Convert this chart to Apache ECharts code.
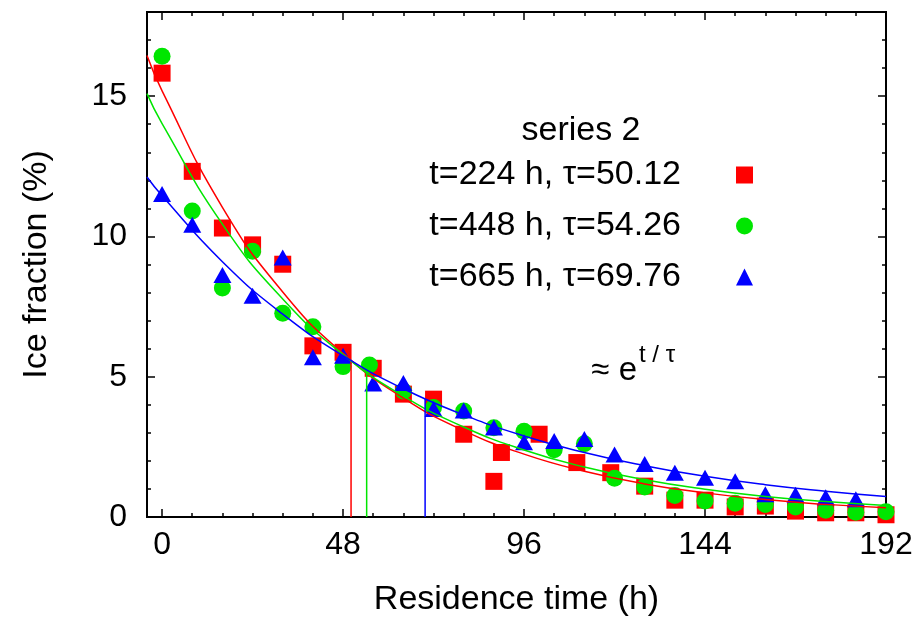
<!DOCTYPE html>
<html>
<head>
<meta charset="utf-8">
<script src="https://cdn.jsdelivr.net/npm/echarts@6/dist/echarts.min.js"></script>
<style>html,body{margin:0;padding:0;background:#fff}#chart{width:920px;height:620px}</style>
</head>
<body>
<div id="chart"></div>
<script>
// tick positions
var xMajor = [0, 48, 96, 144, 192];
var xMinor = [8, 16, 24, 32, 40, 56, 64, 72, 80, 88, 104, 112, 120, 128, 136, 152, 160, 168, 176, 184];
var yMajor = [0, 5, 10, 15];
var yMinor = [1, 2, 3, 4, 6, 7, 8, 9, 11, 12, 13, 14, 16, 17];

var names = ['t=224 h, τ=50.12', 't=448 h, τ=54.26', 't=665 h, τ=69.76'];
var colors = ['#ff0000', '#00e600', '#0000ff'];

// measured points
var redX = [0, 8, 16, 24, 32, 40, 48, 56, 64, 72, 80, 88, 90, 100, 110, 119, 128, 136, 144, 152, 160, 168, 176, 184, 192];
var redY = [15.82, 12.32, 10.30, 9.70, 9.01, 6.10, 5.87, 5.30, 4.38, 4.20, 2.95, 1.27, 2.30, 2.95, 1.94, 1.58, 1.10, 0.60, 0.60, 0.36, 0.39, 0.21, 0.15, 0.15, 0.08];
var greenX = [0, 8, 16, 24, 32, 40, 48, 55, 64, 72, 80, 88, 96, 104, 112, 120, 128, 136, 144, 152, 160, 168, 176, 184, 192];
var greenY = [16.42, 10.91, 8.16, 9.47, 7.26, 6.78, 5.36, 5.42, 4.49, 3.90, 3.78, 3.18, 3.06, 2.40, 2.61, 1.38, 1.07, 0.77, 0.57, 0.49, 0.45, 0.36, 0.24, 0.17, 0.19];
var blueX = [0, 8, 16, 24, 32, 40, 48, 56, 64, 72, 80, 88, 96, 104, 112, 120, 128, 136, 144, 152, 160, 168, 176, 184];
var blueY = [11.51, 10.42, 8.63, 7.89, 9.25, 5.69, 5.75, 4.76, 4.78, 3.85, 3.80, 3.19, 2.66, 2.71, 2.78, 2.23, 1.89, 1.58, 1.40, 1.27, 0.81, 0.79, 0.70, 0.63];

// fitted curves
var fitX = [-4, 0, 16, 32, 48, 64, 80, 96, 112, 128, 144, 160, 176, 192];
var fitRed = [16.45, 15.19, 11.04, 8.02, 5.83, 4.24, 3.08, 2.24, 1.63, 1.18, 0.86, 0.62, 0.45, 0.33];
var fitGreen = [15.09, 14.02, 10.44, 7.77, 5.79, 4.31, 3.21, 2.39, 1.78, 1.33, 0.99, 0.73, 0.55, 0.41];
var fitBlue = [12.12, 11.45, 9.10, 7.23, 5.75, 4.57, 3.64, 2.89, 2.30, 1.83, 1.45, 1.15, 0.92, 0.73];

// tau markers
var tau = [50.12, 54.26, 69.76];
var tauTop = [5.59, 5.16, 4.21];

var FONT = '"Liberation Sans", Arial, sans-serif';
var box = { left: 147, right: 34, top: 12, bottom: 103 };

function pairs(xs, ys) {
    return xs.map(function(x, i) { return [x, ys[i]]; });
}

// one grid per tick set, all on the same rectangle
var tickSets = [
    { xPos: 'bottom', xTicks: xMajor, yPos: 'left', yTicks: yMajor, len: 8, label: true },
    { xPos: 'top', xTicks: xMajor, yPos: 'right', yTicks: yMajor, len: 8, label: false },
    { xPos: 'bottom', xTicks: xMinor, yPos: 'left', yTicks: yMinor, len: 4, label: false },
    { xPos: 'top', xTicks: xMinor, yPos: 'right', yTicks: yMinor, len: 4, label: false }
];

var grids = [], xAxes = [], yAxes = [];
tickSets.forEach(function(t, i) {
    grids.push({
        left: box.left, right: box.right, top: box.top, bottom: box.bottom,
        outerBoundsMode: 'none',
        show: i === 0, borderColor: '#000', borderWidth: 2, containLabel: false
    });
    xAxes.push({
        gridIndex: i, type: 'value', position: t.xPos, min: -4, max: 192,
        axisLine: { show: false, onZero: false },
        axisTick: { show: true, inside: true, length: t.len, customValues: t.xTicks, lineStyle: { color: '#000', width: 1.5 } },
        axisLabel: { show: t.label, customValues: t.xTicks, margin: 12, color: '#000', fontSize: 32, fontFamily: FONT },
        splitLine: { show: false }
    });
    yAxes.push({
        gridIndex: i, type: 'value', position: t.yPos, min: 0, max: 18,
        axisLine: { show: false, onZero: false },
        axisTick: { show: true, inside: true, length: t.len, customValues: t.yTicks, lineStyle: { color: '#000', width: 1.5 } },
        axisLabel: { show: t.label, customValues: t.yTicks, margin: 20, color: '#000', fontSize: 32, fontFamily: FONT },
        splitLine: { show: false }
    });
});
xAxes[0].name = 'Residence time (h)';
xAxes[0].nameLocation = 'middle';
xAxes[0].nameGap = 66;
xAxes[0].nameTextStyle = { color: '#000', fontSize: 34, fontFamily: FONT };
yAxes[0].name = 'Ice fraction (%)';
yAxes[0].nameLocation = 'middle';
yAxes[0].nameGap = 93;
yAxes[0].nameTextStyle = { color: '#000', fontSize: 34, fontFamily: FONT };

var scatterData = [pairs(redX, redY), pairs(greenX, greenY), pairs(blueX, blueY)];
var symbols = ['rect', 'circle', 'triangle'];
var symbolSizes = [17, 17, [18, 16]];
var fits = [fitRed, fitGreen, fitBlue];

var series = [];
scatterData.forEach(function(d, i) {
    series.push({
        name: names[i], type: 'scatter', data: d,
        symbol: symbols[i], symbolSize: symbolSizes[i],
        itemStyle: { color: colors[i], opacity: 1 },
        clip: false, z: 2, silent: true
    });
});
fits.forEach(function(f, i) {
    series.push({
        name: 'fit' + i, type: 'line', data: pairs(fitX, f),
        smooth: true, showSymbol: false,
        lineStyle: { color: colors[i], width: 1.5 }, z: 3, silent: true
    });
    series.push({
        name: 'tau' + i, type: 'line', data: [[tau[i], 0], [tau[i], tauTop[i]]],
        showSymbol: false,
        lineStyle: { color: colors[i], width: 1.5 }, z: 3, silent: true
    });
});

var chart = echarts.init(document.getElementById('chart'));
chart.setOption({
    animation: false,
    backgroundColor: '#fff',
    grid: grids,
    xAxis: xAxes,
    yAxis: yAxes,
    legend: {
        data: names, orient: 'vertical', right: 167, top: 158, align: 'right',
        itemWidth: 17, itemHeight: 17, itemGap: 17, padding: 0, selectedMode: false,
        textStyle: { color: '#000', fontSize: 34, fontFamily: FONT, padding: [0, 50, 0, 0] }
    },
    graphic: [
        { type: 'text', style: { x: 581, y: 131, text: 'series 2', fill: '#000', font: '34px ' + FONT, align: 'center', verticalAlign: 'middle' } },
        { type: 'text', style: { x: 637, y: 371, text: '≈ e', fill: '#000', font: '33px ' + FONT, align: 'right', verticalAlign: 'middle' } },
        { type: 'text', style: { x: 639, y: 355, text: 't / τ', fill: '#000', font: '24px ' + FONT, align: 'left', verticalAlign: 'middle' } }
    ],
    series: series
});
</script>
</body>
</html>
